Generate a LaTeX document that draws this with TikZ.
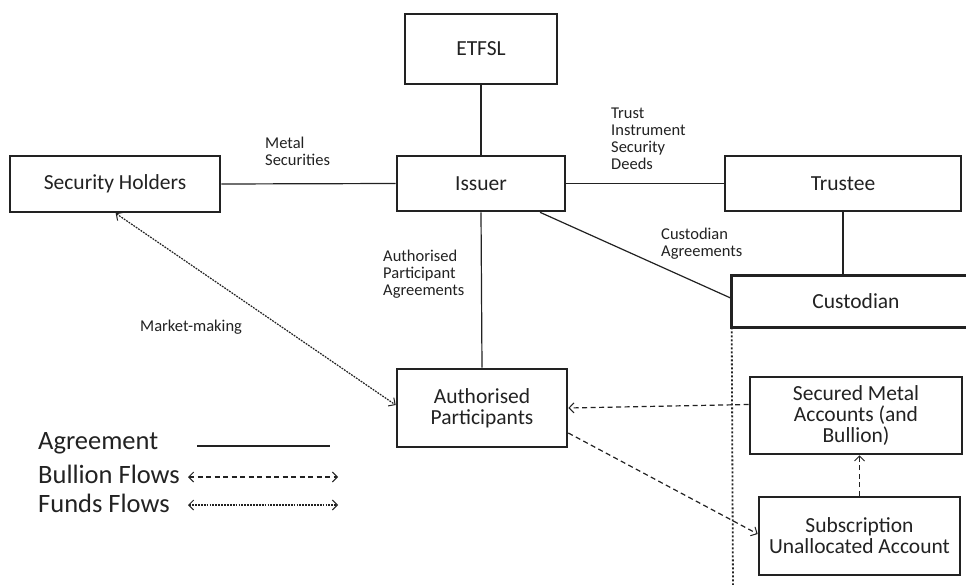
\documentclass[tikz,border=0pt]{standalone}
\usepackage{fontspec}
\setmainfont{Carlito}
\usetikzlibrary{arrows.meta,calc}
\definecolor{ink}{HTML}{222222}
\tikzset{
  x=1pt,y=-1pt,
  box/.style={draw=ink,line width=2.6pt,rectangle,inner sep=0pt,align=center,font=\fontsize{21.5}{21}\selectfont,text=ink},
  lbl/.style={inner sep=0pt,anchor=north west,align=left,font=\fontsize{16.5}{17}\selectfont,text=ink},
  legtxt/.style={inner sep=0pt,anchor=west,font=\fontsize{26.5}{28}\selectfont,text=ink},
  agree/.style={draw=ink,line width=1.2pt},
  bullion/.style={draw=ink,line width=1.2pt,dash pattern=on 5pt off 3.5pt},
  funds/.style={draw=ink,line width=1.2pt,dash pattern=on 1.8pt off 1.1pt},
  sep/.style={draw=ink,line width=1.8pt,dash pattern=on 2pt off 2pt},
}
\begin{document}
\begin{tikzpicture}
\useasboundingbox[fill=white] (0,0) rectangle (966,585);
% boxes
\node[box,minimum width=152pt,minimum height=70pt] (etfsl) at (481,49) {ETFSL};
\node[box,minimum width=168pt,minimum height=55pt] (issuer) at (481,183.5) {Issuer};
\node[box,minimum width=210pt,minimum height=56pt] (sh) at (115,184) {Security Holders};
\node[box,minimum width=236pt,minimum height=55pt] (trustee) at (843,183.5) {Trustee};
\node[box,draw=none,minimum width=246pt,minimum height=49pt] (cust) at (856,301.5) {Custodian};
\node[box,minimum width=170pt,minimum height=78pt] (ap) at (482,408) {Authorised\\Participants};
\node[box,minimum width=212pt,minimum height=77pt] (sec) at (856,415.5) {Secured Metal\\Accounts (and\\Bullion)};
\node[box,minimum width=201pt,minimum height=78pt] (sub) at (859.5,536) {Subscription\\Unallocated Account};
% custodian open box
\draw[ink,line width=2.6pt] ($(cust.north east)+(20,0)$) -- (cust.north west) -- (cust.south west) -- ($(cust.south east)+(20,0)$);
% labels
\node[lbl] (lms) at (265,137) {Metal\\Securities};
\node[lbl] (ltr) at (611,108) {Trust\\Instrument\\Security\\Deeds};
\node[lbl] (lca) at (661,228) {Custodian\\Agreements};
\node[lbl] (lap) at (383,250) {Authorised\\Participant\\Agreements};
\node[lbl] (lmm) at (140,320) {Market-making};
% agreements
\draw[agree] (etfsl.south) -- (issuer.north);
\draw[agree] (sh.east) -- (issuer.west);
\draw[agree] (issuer.east) -- (trustee.west);
\draw[agree] (trustee.south) -- (trustee.south |- cust.north);
\draw[agree] ($(issuer.south)+(59,0)$) -- ($(cust.west)+(0,-3)$);
\draw[agree] (issuer.south) -- (ap.north);
% flows
\draw[funds,{Straight Barb[length=5pt,width=10pt,line width=1pt]}-{Straight Barb[length=5pt,width=10pt,line width=1pt]}] ($(sh.south west)+(107,0)$) -- ($(ap.west)+(0,-3)$);
\draw[bullion,-{Straight Barb[length=5pt,width=10pt,line width=1pt]}] ($(sec.west)+(0,-11)$) -- ($(ap.east)+(0,0)$);
\draw[bullion,-{Straight Barb[length=5pt,width=10pt,line width=1pt]}] ($(ap.east)+(0,25)$) -- ($(sub.west)+(0,-2)$);
\draw[bullion,-{Straight Barb[length=5pt,width=10pt,line width=1pt]}] (sub.north) -- (sub.north |- sec.south);
\coordinate (sepend) at (733,590);
\draw[sep] (cust.south west) -- (sepend);
% legend
\node[legtxt] (lg1) at (38,443) {Agreement};
\node[legtxt] (lg2) at (38,474) {Bullion Flows};
\node[legtxt] (lg3) at (38,503) {Funds Flows};
\coordinate (a1) at (197,446);
\coordinate (a2) at (330,446);
\coordinate (b1) at (188,477);
\coordinate (b2) at (338,477);
\coordinate (c1) at (188,505);
\coordinate (c2) at (338,505);
\draw[agree] (a1) -- (a2);
\draw[bullion,{Straight Barb[length=5pt,width=10pt,line width=1pt]}-{Straight Barb[length=5pt,width=10pt,line width=1pt]}] (b1) -- (b2);
\draw[funds,{Straight Barb[length=5pt,width=10pt,line width=1pt]}-{Straight Barb[length=5pt,width=10pt,line width=1pt]}] (c1) -- (c2);
\end{tikzpicture}
\end{document}
